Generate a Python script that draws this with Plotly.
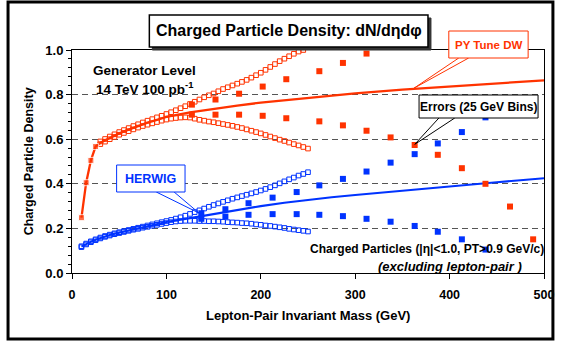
import plotly.graph_objects as go

# ---------------- data ----------------
# PYTHIA Tune DW (red)
py_mean_x = [10, 15, 20, 25, 30, 40, 50, 60, 70, 80, 90, 100, 125, 150, 175, 200, 250, 300, 350, 400, 450, 500]
py_mean_y = [0.248, 0.405, 0.505, 0.567, 0.584, 0.606, 0.626, 0.643, 0.659, 0.674, 0.687, 0.700, 0.720, 0.737,
             0.751, 0.764, 0.786, 0.805, 0.822, 0.837, 0.851, 0.864]

py_up_x = list(range(30, 250, 5))
py_up_y = [0.590, 0.601, 0.612, 0.622, 0.632, 0.641, 0.650, 0.659, 0.667, 0.675, 0.683, 0.690, 0.698, 0.705,
           0.713, 0.721, 0.730, 0.739, 0.748, 0.758, 0.768, 0.778, 0.788, 0.797, 0.805, 0.815, 0.825, 0.833,
           0.841, 0.849, 0.857, 0.866, 0.876, 0.887, 0.898, 0.911, 0.924, 0.937, 0.950, 0.961, 0.972, 0.983,
           0.993, 1.000]
py_lo_x = list(range(30, 255, 5))
py_lo_y = [0.578, 0.589, 0.600, 0.610, 0.620, 0.628, 0.636, 0.644, 0.652, 0.659, 0.665, 0.671, 0.677, 0.683,
           0.688, 0.692, 0.695, 0.697, 0.698, 0.697, 0.692, 0.687, 0.683, 0.679, 0.676, 0.672, 0.668, 0.664,
           0.660, 0.655, 0.650, 0.644, 0.638, 0.632, 0.626, 0.619, 0.612, 0.605, 0.598, 0.592, 0.585, 0.578,
           0.572, 0.565, 0.558]

py_bin_up_x = [127, 152, 177, 202, 227, 262, 287, 312]
py_bin_up_y = [0.755, 0.778, 0.804, 0.836, 0.869, 0.905, 0.942, 0.984]
py_bin_lo_x = [127, 152, 177, 202, 227, 262, 287, 312, 337.5, 363, 387.5, 413, 438, 464, 488.5]
py_bin_lo_y = [0.710, 0.710, 0.710, 0.705, 0.694, 0.680, 0.662, 0.638, 0.608, 0.574, 0.530, 0.470, 0.400,
               0.298, 0.151]

# HERWIG (blue)
hw_mean_x = [10, 15, 20, 25, 30, 40, 50, 60, 70, 80, 90, 100, 125, 150, 175, 200, 225, 250, 275, 300, 325, 350,
             375, 400, 425, 450, 475, 500]
hw_mean_y = [0.118, 0.130, 0.140, 0.149, 0.157, 0.170, 0.181, 0.191, 0.200, 0.210, 0.220, 0.229, 0.246, 0.265,
             0.284, 0.300, 0.315, 0.328, 0.340, 0.350, 0.360, 0.370, 0.380, 0.389, 0.398, 0.407, 0.416, 0.425]

hw_band_x = list(range(10, 255, 5))
hw_up_y = [0.120, 0.132, 0.142, 0.151, 0.159, 0.166, 0.172, 0.178, 0.183, 0.188, 0.193, 0.198, 0.203, 0.208,
           0.213, 0.218, 0.223, 0.228, 0.233, 0.238, 0.244, 0.250, 0.257, 0.265, 0.273, 0.281, 0.289, 0.297,
           0.305, 0.312, 0.319, 0.326, 0.333, 0.339, 0.345, 0.351, 0.357, 0.363, 0.370, 0.377, 0.385, 0.393,
           0.402, 0.411, 0.420, 0.428, 0.437, 0.444, 0.452]
hw_lo_y = [0.116, 0.128, 0.138, 0.147, 0.155, 0.162, 0.168, 0.174, 0.179, 0.184, 0.189, 0.194, 0.198, 0.203,
           0.207, 0.212, 0.216, 0.220, 0.224, 0.228, 0.231, 0.233, 0.234, 0.234, 0.234, 0.233, 0.233, 0.232,
           0.232, 0.231, 0.230, 0.228, 0.227, 0.226, 0.224, 0.223, 0.221, 0.218, 0.216, 0.213, 0.211, 0.208,
           0.205, 0.202, 0.198, 0.195, 0.192, 0.189, 0.186]

hw_bin_x = [137, 162.5, 187, 212.5, 238, 262, 287, 312, 337.5, 363, 387.5, 413, 438]
hw_bin_up_y = [0.268, 0.286, 0.313, 0.338, 0.363, 0.393, 0.422, 0.455, 0.495, 0.533, 0.581, 0.632, 0.698]
hw_bin_lo_y = [0.243, 0.253, 0.261, 0.264, 0.264, 0.261, 0.255, 0.243, 0.230, 0.211, 0.185, 0.151, 0.105]

y_ticks = [0.0, 0.2, 0.4, 0.6, 0.8, 1.0]
y_tick_text = ["0.0", "0.2", "0.4", "0.6", "0.8", "1.0"]
x_ticks = [0, 100, 200, 300, 400, 500]

RED = "#FF3300"
BLUE = "#0033FF"

# ---------------- layout geometry ----------------
W, H = 566, 343
ML, MR, MT, MB = 72, 18, 50, 70
PW, PH = W - ML - MR, H - MT - MB


def px(x):
    return (x - ML) / PW


def py(y):
    return (H - MB - y) / PH


FONT = "Liberation Sans, Arial, sans-serif"

fig = go.Figure()

# error bands (open squares)
for xs, ys, col in [(py_up_x, py_up_y, RED), (py_lo_x, py_lo_y, RED),
                    (hw_band_x, hw_up_y, BLUE), (hw_band_x, hw_lo_y, BLUE)]:
    fig.add_trace(go.Scatter(x=xs, y=ys, mode="markers", cliponaxis=False,
                             marker=dict(symbol="square-open", size=4.6, color=col,
                                         line=dict(width=1, color=col)),
                             showlegend=False, hoverinfo="skip"))

# mean curves
py_sizes = [6 if x <= 25 else 0 for x in py_mean_x]
fig.add_trace(go.Scatter(x=py_mean_x, y=py_mean_y, mode="lines+markers",
                         line=dict(color=RED, width=2.3),
                         marker=dict(symbol="square", size=py_sizes, color=RED),
                         showlegend=False))
fig.add_trace(go.Scatter(x=hw_mean_x, y=hw_mean_y, mode="lines",
                         line=dict(color=BLUE, width=2.1), showlegend=False))

# 25 GeV bin errors (filled squares)
for xs, ys, col in [(py_bin_up_x, py_bin_up_y, RED), (py_bin_lo_x, py_bin_lo_y, RED),
                    (hw_bin_x, hw_bin_up_y, BLUE), (hw_bin_x, hw_bin_lo_y, BLUE)]:
    fig.add_trace(go.Scatter(x=xs, y=ys, mode="markers",
                             marker=dict(symbol="square", size=6, color=col),
                             showlegend=False))

shapes = []


def rect(x0, y0, x1, y1, line_col, lw=1, fill="white"):
    shapes.append(dict(type="rect", xref="paper", yref="paper",
                       x0=px(x0), x1=px(x1), y0=py(y1), y1=py(y0),
                       line=dict(color=line_col, width=lw), fillcolor=fill, layer="above"))


def wedge(xa, xb, yb, xt, yt, col):
    path = "M {} {} L {} {} L {} {}".format(px(xa), py(yb), px(xt), py(yt), px(xb), py(yb))
    shapes.append(dict(type="path", xref="paper", yref="paper", path=path,
                       line=dict(color=col, width=1), fillcolor="rgba(255,255,255,0)", layer="above"))


# outer frame
shapes.append(dict(type="rect", xref="paper", yref="paper", x0=px(7.5), x1=px(557), y0=py(339), y1=py(2),
                   line=dict(color="black", width=3), fillcolor="rgba(0,0,0,0)", layer="above"))
# title box with shadow
rect(153, 18, 434, 50, "#333333", 1, "#333333")
rect(150, 15, 431, 47, "black", 1.5)
# PY Tune DW callout
wedge(462, 472, 58, 416.7, 88.3, RED)
rect(452, 31, 532, 58, RED, 1)
# HERWIG callout
wedge(157, 175, 192, 200, 213, BLUE)
rect(117, 165, 186, 192, BLUE, 1)
# Errors callout
wedge(442, 458, 118, 417.7, 144.3, "black")
rect(422, 95, 542, 118, "black", 1)

ann = []


def text(x, y, s, size, color="black", italic=False, angle=0):
    ann.append(dict(xref="paper", yref="paper", x=px(x), y=py(y), text=s, showarrow=False,
                    xanchor="center", yanchor="middle", textangle=angle,
                    font=dict(family=FONT, size=size, color=color, weight="bold",
                              style="italic" if italic else "normal")))


text(290.5, 31, "Charged Particle Density: dN/dηdφ", 16)
text(492, 44.5, "PY Tune DW", 11.5, RED)
text(151.5, 178.5, "HERWIG", 12.5, BLUE)
text(482, 106.5, "Errors (25 GeV Bins)", 12)
text(145, 70, "Generator Level", 13.5)
text(145, 88, "14 TeV 100 pb<sup>-1</sup>", 13.5)
text(430, 249, "Charged Particles (|η|<1.0, PT>0.9 GeV/c)", 12)
text(453, 266, "(excluding lepton-pair )", 13, italic=True)
text(310, 315, "Lepton-Pair Invariant Mass (GeV)", 13)
text(29, 161, "Charged Particle Density", 12.5, angle=-90)

fig.update_layout(
    width=W, height=H, margin=dict(l=ML, r=MR, t=MT, b=MB),
    paper_bgcolor="white", plot_bgcolor="white",
    shapes=shapes, annotations=ann, showlegend=False,
    font=dict(family=FONT),
)
fig.update_xaxes(range=[0, 500], tickvals=x_ticks, ticks="outside", ticklen=5, tickcolor="black",
                 showline=True, linecolor="black", linewidth=1, mirror=True, showgrid=False, zeroline=False,
                 tickfont=dict(family=FONT, size=12.5, color="black", weight="bold"), ticklabelstandoff=5)
fig.update_yaxes(range=[0, 1], tickvals=y_ticks, ticktext=y_tick_text, ticks="outside", ticklen=5,
                 tickcolor="black", showline=True, linecolor="black", linewidth=1, mirror=True,
                 showgrid=True, gridcolor="#555555", gridwidth=1, griddash="6px,4px", zeroline=False,
                 minor=dict(dtick=0.04, ticks="outside", ticklen=3, tickcolor="black", showgrid=False),
                 tickfont=dict(family=FONT, size=13, color="black", weight="bold"))

fig.write_html("out.html")
